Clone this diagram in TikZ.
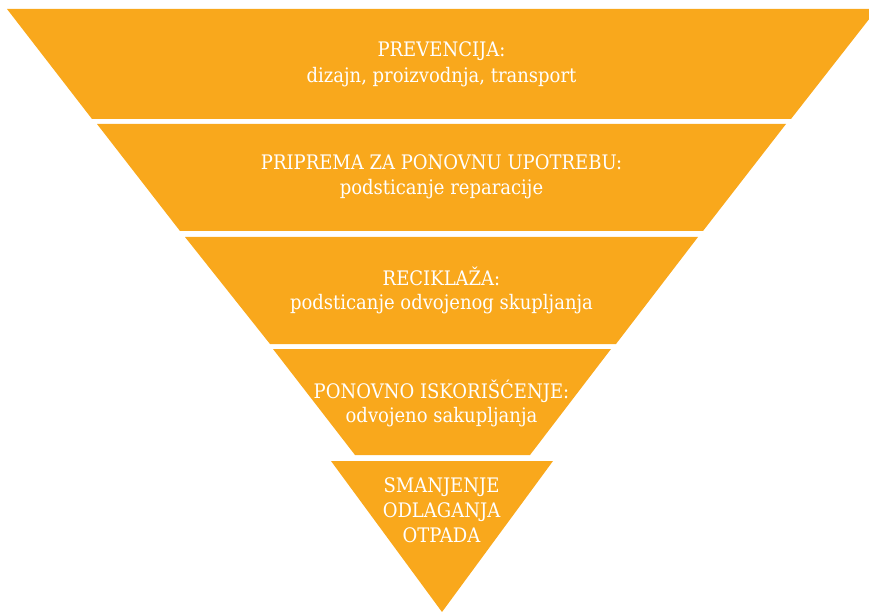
\documentclass[tikz,border=0pt]{standalone}
\usepackage{fontspec}
\setmainfont{DejaVu Serif}[FakeStretch=0.9]
\definecolor{pyr}{RGB}{249,168,28}
\begin{document}
\begin{tikzpicture}[x=1pt,y=-1pt,
  band/.style={fill=pyr,draw=none},
  lbl/.style={text=white,anchor=base,inner sep=0pt,font=\fontsize{20}{25}\selectfont}]
\useasboundingbox (0,0) rectangle (869,612);
\clip (0,0) rectangle (869,612);
\fill[band] (7,9) -- (877,9) -- (791,119) -- (92,119) -- cycle;
\fill[band] (97,124) -- (786,124) -- (703,231) -- (180,231) -- cycle;
\fill[band] (185,237) -- (698,237) -- (616,344) -- (270,344) -- cycle;
\fill[band] (273,349) -- (611,349) -- (530,455) -- (355,455) -- cycle;
\fill[band] (331,461) -- (553,461) -- (442,612) -- cycle;
\node[lbl] (t1a) at (441.5,57) {PREVENCIJA:};
\node[lbl] (t1b) at (441.5,83) {dizajn, proizvodnja, transport};
\node[lbl] (t2a) at (441.5,170) {PRIPREMA ZA PONOVNU UPOTREBU:};
\node[lbl] (t2b) at (441.5,195) {podsticanje reparacije};
\node[lbl] (t3a) at (441.5,285) {RECIKLAŽA:};
\node[lbl] (t3b) at (441.5,309) {podsticanje odvojenog skupljanja};
\node[lbl] (t4a) at (441.5,398) {PONOVNO ISKORIŠĆENJE:};
\node[lbl] (t4b) at (441.5,422) {odvojeno sakupljanja};
\node[lbl] (t5a) at (441.5,492) {SMANJENJE};
\node[lbl] (t5b) at (441.5,517) {ODLAGANJA};
\node[lbl] (t5c) at (441.5,542) {OTPADA};
\end{tikzpicture}
\end{document}
